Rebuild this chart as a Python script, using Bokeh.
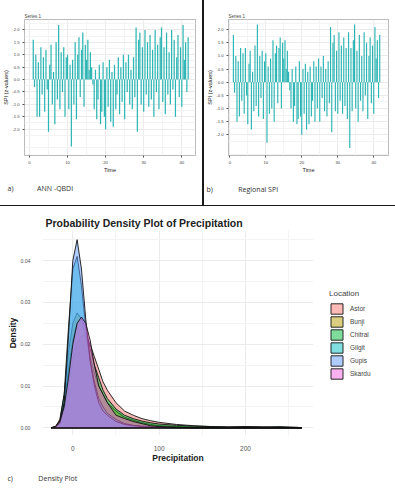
from bokeh.plotting import figure
from bokeh.models import (FixedTicker, NumeralTickFormatter, Legend, LegendItem,
                          Range1d, Title, Div)
from bokeh.layouts import row, column
from bokeh.embed import file_html
from bokeh.resources import INLINE

# ---------------- data ----------------
time_start = 1.0
time_step = 1 / 3

spi_ann = [
    1.6, -0.3, 1.0, -1.5, 0.7, -1.5, 1.3, -0.6, 0.9, -1.3, 1.2, -0.4,
    -2.1, 0.6, 1.4, -1.0, 0.3, -1.8, 1.5, -0.8, 2.2, -1.2, 1.1, -0.5,
    1.3, -1.5, 0.9, 1.0, -1.2, 0.6, -2.7, 0.8, -1.0, 1.5, -1.6, 1.0,
    1.7, -0.7, 1.2, 1.9, -1.1, 1.4, 0.8, 1.6, 0.4, 1.1, 0.5, -0.2,
    -1.2, 0.4, -1.6, -0.8, 0.6, -1.8, -1.3, 0.7, -1.5, -2.0, 0.5, -1.1,
    0.8, -1.7, 0.3, -1.9, 0.6, -1.2, -0.6, 0.9, -1.4, 0.5, -0.9, 1.0,
    -1.6, 0.7, -0.5, 1.0, -1.0, 0.4, -1.2, 0.9, -0.7, 2.1, -2.1, 1.6,
    1.9, -1.0, 1.3, -1.3, 2.0, -0.6, 1.5, -1.1, 1.8, -0.8, 1.2, -1.5,
    2.0, -0.5, 1.4, -1.2, 1.7, 2.1, -0.9, 1.3, -1.4, 1.9, -0.6, 1.1,
    -1.0, 2.0, -0.4, 1.6, -1.5, 0.9, 1.8, -0.7, 1.3, -1.1, 2.2, 0.8,
    1.5, -0.5, 1.7,
]

spi_regional = [
    1.8, -0.4, 1.0, -1.5, 0.8, -1.3, 1.3, -0.7, 1.1, -1.2, 1.3, -0.5,
    -1.6, 0.7, 1.2, -1.8, 0.4, -1.1, 1.4, -0.9, 2.2, -1.3, 1.0, -0.6,
    1.2, -1.4, 0.8, 1.1, -2.3, 0.6, -1.2, 0.9, -1.0, 1.6, -1.5, 1.1,
    1.4, -0.8, 1.3, 1.7, -1.0, 1.5, 0.9, 1.6, 0.5, 1.2, 0.4, -0.3,
    -1.0, 0.5, -1.5, -0.9, 0.6, -1.6, -1.4, 0.8, -1.3, -2.0, 0.5, -1.2,
    0.7, -1.8, 0.4, -1.6, 0.6, -1.3, -0.7, 0.8, -1.5, 0.6, -1.0, 0.9,
    -1.5, 0.6, -0.6, 1.0, -1.1, 0.5, -1.3, 0.8, -0.8, 2.1, -1.9, 1.5,
    1.8, -1.1, 1.2, -1.2, 1.9, -0.7, 1.4, -1.2, 1.7, -0.9, 1.3, -1.4,
    1.9, -2.5, 1.3, -1.1, 1.6, 2.2, -1.0, 1.2, -1.5, 1.8, -0.7, 1.0,
    -1.1, 1.9, -0.5, 1.5, -1.4, 1.0, 1.7, -0.8, 1.4, -1.2, 2.1, 0.9,
    1.6, -0.6, 1.8,
]

spi_yticks = [-2.0, -1.5, -1.0, -0.5, 0.0, 0.5, 1.0, 1.5, 2.0]
spi_yminor = [-2.75, -2.25, -1.75, -1.25, -0.75, -0.25, 0.25, 0.75, 1.25, 1.75, 2.25]
time_ticks = [0, 10, 20, 30, 40]
time_minor = [5, 15, 25, 35]

locations = ["Astor", "Bunji", "Chitral", "Gilgit", "Gupis", "Skardu"]
location_colors = ["#F8766D", "#B79F00", "#00BA38", "#00BFC4", "#619CFF", "#F564E3"]

precip_x = [-25, -20, -15, -10, -5, 0, 5, 10, 15, 20, 25, 30, 35, 40, 50, 60, 70,
            80, 90, 100, 120, 140, 160, 180, 200, 220, 240, 260, 265]

density = {
    "Astor":   [0, 0.0002, 0.001, 0.004, 0.010, 0.016, 0.020, 0.022, 0.022, 0.020,
                0.017, 0.014, 0.011, 0.009, 0.006, 0.004, 0.003, 0.0022, 0.0017,
                0.0013, 0.0008, 0.0005, 0.0003, 0.0002, 0.0003, 0.0002, 0.0001,
                0.0001, 0],
    "Bunji":   [0, 0.0003, 0.002, 0.008, 0.018, 0.025, 0.0275, 0.026, 0.022, 0.017,
                0.013, 0.010, 0.008, 0.006, 0.004, 0.0025, 0.0018, 0.0012, 0.0008,
                0.0005, 0.0003, 0.0002, 0.0001, 0.0001, 0.0002, 0.0001, 0.00005,
                0, 0],
    "Chitral": [0, 0.0003, 0.0015, 0.006, 0.014, 0.021, 0.025, 0.026, 0.024, 0.019,
                0.015, 0.012, 0.009, 0.007, 0.0045, 0.003, 0.0022, 0.0016, 0.0012,
                0.0009, 0.0006, 0.0004, 0.0003, 0.0002, 0.0002, 0.0002, 0.0003,
                0.0001, 0],
    "Gilgit":  [0, 0.0003, 0.0015, 0.008, 0.024, 0.038, 0.041, 0.034, 0.024, 0.016,
                0.011, 0.007, 0.005, 0.0035, 0.002, 0.001, 0.0006, 0.0004, 0.0003,
                0.0002, 0.0001, 0.00005, 0, 0, 0, 0, 0, 0, 0],
    "Gupis":   [0, 0.0002, 0.001, 0.006, 0.022, 0.040, 0.045, 0.038, 0.026, 0.016,
                0.010, 0.006, 0.004, 0.003, 0.0015, 0.0008, 0.0005, 0.0003, 0.0002,
                0.0001, 0.00005, 0, 0, 0, 0, 0, 0, 0, 0],
    "Skardu":  [0, 0.0003, 0.0015, 0.005, 0.012, 0.020, 0.025, 0.0265, 0.025, 0.021,
                0.015, 0.010, 0.008, 0.006, 0.003, 0.0022, 0.0015, 0.001, 0.0005,
                0.0003, 0.0001, 0, 0, 0, 0, 0, 0, 0, 0],
}
dens_yticks = [0.0, 0.01, 0.02, 0.03, 0.04]
dens_yminor = [0.005, 0.015, 0.025, 0.035, 0.045]
precip_ticks = [0, 100, 200]
precip_minor = [50, 150, 250]

BAR = "#2bb5b3"
GRID = "#ebebeb"
CAP_FONT = "Open Sans"
AX_FONT = "Liberation Sans"
NB = "\u00a0"
LINE = "#1a1a1a"


def caption_title(text, offset, standoff):
    return Title(text=text, align="left", offset=offset, standoff=standoff,
                 text_font=CAP_FONT, text_font_size="7px", text_font_style="normal",
                 text_color="#333333")


def spi_fig(values, width, height, borders, xr, yr, caption, cap_offset, cap_standoff):
    left, right, top, bottom = borders
    p = figure(width=width, height=height, output_backend="svg", toolbar_location=None,
               x_range=Range1d(*xr), y_range=Range1d(*yr), title="Series 1",
               min_border_left=left, min_border_right=right,
               min_border_top=top, min_border_bottom=bottom)
    t = [time_start + i * time_step for i in range(len(values))]
    p.vbar(x=t, top=values, bottom=0, width=0.32, fill_color=BAR, line_color=None)
    p.title.text_font_size = "4.5px"
    p.title.text_font = AX_FONT
    p.title.text_font_style = "normal"
    p.title.standoff = 1
    p.title.offset = 0
    p.xaxis.ticker = FixedTicker(ticks=time_ticks, minor_ticks=time_minor)
    p.yaxis.ticker = FixedTicker(ticks=spi_yticks, minor_ticks=spi_yminor)
    p.yaxis.formatter = NumeralTickFormatter(format="0.0")
    p.xaxis.axis_label = "Time"
    p.yaxis.axis_label = "SPI (z-values)"
    for ax in (p.xaxis, p.yaxis):
        ax.axis_line_color = None
        ax.major_tick_out = 2
        ax.major_tick_in = 0
        ax.major_tick_line_color = "#555555"
        ax.minor_tick_line_color = None
        ax.major_label_text_font_size = "4.2px"
        ax.major_label_text_color = "#444444"
        ax.major_label_text_font = AX_FONT
        ax.axis_label_text_font_size = "5.5px"
        ax.axis_label_text_font_style = "normal"
        ax.axis_label_text_font = AX_FONT
        ax.axis_label_text_color = "#222222"
        ax.major_label_standoff = 1
        ax.axis_label_standoff = 0
    p.xgrid.grid_line_color = GRID
    p.ygrid.grid_line_color = GRID
    p.xgrid.minor_grid_line_color = "#f3f3f3"
    p.ygrid.minor_grid_line_color = "#f3f3f3"
    p.outline_line_color = "#aaaaaa"
    p.outline_line_width = 0.8
    p.add_layout(caption_title(caption, cap_offset, cap_standoff), "below")
    return p


pa = spi_fig(spi_ann, 202, 205, (22, 7, 18, 46), (-1.3, 43.6), (-3.06, 2.42),
             "a)" + NB * 13 + "ANN -QBDI", -17, 12)
pb = spi_fig(spi_regional, 191, 205, (23, 7, 19, 50), (-0.36, 44.1), (-2.79, 2.39),
             "b)" + NB * 14 + "Regional SPI", -22, 14)

# ---------------- density plot ----------------
pc = figure(width=313, height=287, output_backend="svg", toolbar_location=None,
            x_range=Range1d(-35.1, 278.7), y_range=Range1d(-0.00184, 0.0472),
            title="Probability Density Plot of Precipitation",
            min_border_left=42, min_border_right=0, min_border_top=24, min_border_bottom=58)
for loc, col in zip(locations, location_colors):
    pc.patch(precip_x, density[loc], fill_color=col, fill_alpha=0.5,
             line_color="#111111", line_width=0.9)

pc.title.text_font = AX_FONT
pc.title.text_font_size = "10.5px"
pc.title.text_font_style = "bold"
pc.title.text_color = "#222222"
pc.title.offset = 3
pc.title.standoff = 4
pc.xaxis.ticker = FixedTicker(ticks=precip_ticks, minor_ticks=precip_minor)
pc.yaxis.ticker = FixedTicker(ticks=dens_yticks, minor_ticks=dens_yminor)
pc.yaxis.formatter = NumeralTickFormatter(format="0.00")
pc.xaxis.axis_label = "Precipitation"
pc.yaxis.axis_label = "Density"
for ax in (pc.xaxis, pc.yaxis):
    ax.axis_line_color = None
    ax.major_tick_line_color = None
    ax.minor_tick_line_color = None
    ax.major_tick_out = 0
    ax.major_tick_in = 0
    ax.major_label_text_font = AX_FONT
    ax.major_label_text_color = "#555555"
    ax.axis_label_text_font = AX_FONT
    ax.axis_label_text_font_size = "8.5px"
    ax.axis_label_text_font_style = "bold"
    ax.axis_label_text_color = "#222222"
pc.yaxis.major_label_text_font_size = "5.2px"
pc.xaxis.major_label_text_font_size = "6.5px"
pc.yaxis.major_label_standoff = 8
pc.yaxis.axis_label_standoff = -1
pc.xaxis.major_label_standoff = 6
pc.xaxis.axis_label_standoff = -1
pc.xgrid.grid_line_color = GRID
pc.ygrid.grid_line_color = GRID
pc.xgrid.minor_grid_line_color = "#f3f3f3"
pc.ygrid.minor_grid_line_color = "#f3f3f3"
pc.outline_line_color = None
pc.add_layout(caption_title("c)" + NB * 14 + "Density Plot", -35, 12), "below")

# legend panel (same glyph styles, drawn outside its visible range)
pl = figure(width=82, height=287, output_backend="svg", toolbar_location=None,
            x_range=Range1d(0, 1), y_range=Range1d(0, 1),
            min_border_left=0, min_border_right=0, min_border_top=0, min_border_bottom=0,
            x_axis_location=None, y_axis_location=None)
pl.grid.visible = False
pl.outline_line_color = None
items = []
for loc, col in zip(locations, location_colors):
    r = pl.patch(x=[5, 6, 6], y=[5, 5, 6], fill_color=col, fill_alpha=0.5,
                 line_color="#111111", line_width=0.9)
    items.append(LegendItem(label=loc, renderers=[r]))
legend = Legend(items=items, location=(16, 55), title="Location",
                title_text_font=AX_FONT, title_text_font_size="8px",
                title_text_font_style="normal", title_standoff=4,
                label_text_font=AX_FONT, label_text_font_size="6.5px",
                glyph_width=15, glyph_height=13, spacing=0, label_standoff=6,
                padding=0, margin=0, border_line_color=None, background_fill_alpha=0)
pl.add_layout(legend)

sep_v = Div(width=2, height=205, margin=0, styles={"background-color": LINE})
sep_h = Div(width=395, height=1, margin=0, styles={"background-color": LINE})

layout = column(row(pa, sep_v, pb), sep_h, row(pc, pl))

open("out.html", "w").write(file_html(layout, INLINE))
